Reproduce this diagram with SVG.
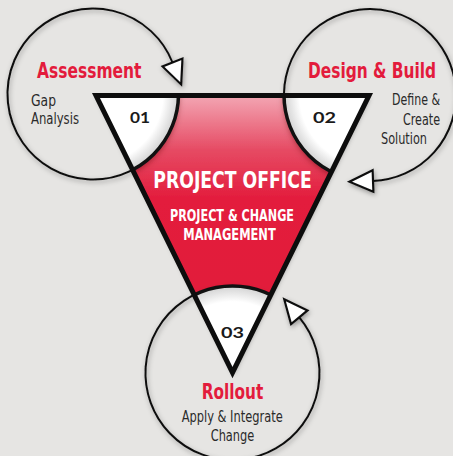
<svg xmlns="http://www.w3.org/2000/svg" width="453" height="456" viewBox="0 0 453 456">
  <defs>
    <style>
      .title { font-family: "Liberation Sans Narrow", "DejaVu Sans Condensed", "Liberation Sans", sans-serif; font-weight: 700; font-size: 21px; fill: #e31b3c; }
      .desc { font-family: "Liberation Sans Narrow", "DejaVu Sans Condensed", "Liberation Sans", sans-serif; font-size: 16px; fill: #2a2a2a; }
      .num { font-family: "Lato", "Open Sans", "Liberation Sans", sans-serif; font-weight: 700; font-size: 15.5px; fill: #1a1a1a; }
      .center { font-family: "Liberation Sans Narrow", "DejaVu Sans Condensed", "Liberation Sans", sans-serif; font-weight: 700; fill: #ffffff; }
      .end { text-anchor: end; }
      .ring { fill: none; stroke: #111; stroke-width: 2; }
      .inner-arc { fill: none; stroke: #111; stroke-width: 3.5; }
      .sector { fill: url(#sectorShade); }
    </style>
    <linearGradient id="redFill" gradientUnits="userSpaceOnUse" x1="0" y1="95" x2="0" y2="372">
      <stop offset="0" stop-color="#f3a7b4"/>
      <stop offset="0.2" stop-color="#e64a63"/>
      <stop offset="0.38" stop-color="#e31b3c"/>
      <stop offset="1" stop-color="#e11a38"/>
    </linearGradient>
    <radialGradient id="sectorShade" cx="50%" cy="50%" r="50%">
      <stop offset="0" stop-color="#ffffff"/>
      <stop offset="0.82" stop-color="#ffffff"/>
      <stop offset="1" stop-color="#d2d2d2"/>
    </radialGradient>
    <clipPath id="triClip">
      <polygon points="96,95.5 369,95.5 232.5,372.5"/>
    </clipPath>
    <filter id="softShadow" x="-20%" y="-20%" width="140%" height="140%">
      <feDropShadow dx="1" dy="2" stdDeviation="2.5" flood-color="#000" flood-opacity="0.35"/>
    </filter>
    <filter id="sectorShadow" x="-20%" y="-20%" width="140%" height="140%">
      <feDropShadow dx="0" dy="3" stdDeviation="3" flood-color="#5a0010" flood-opacity="0.55"/>
    </filter>
    <marker id="arrow" markerUnits="userSpaceOnUse" markerWidth="30" markerHeight="30" viewBox="-2 -12 28 24" refX="0" refY="0" orient="auto" overflow="visible">
      <path d="M0,-10 L22,0 L0,10 Z" fill="#fff" stroke="#111" stroke-width="2" stroke-linejoin="miter"/>
    </marker>
  </defs>

  <rect width="453" height="456" fill="#e6e5e3"/>

  <!-- cycle rings with arrowheads -->
  <g id="connectors" filter="url(#softShadow)">
    <path class="ring" d="M177.2,108.85 A85.5,85.5 0 1 1 172.5,62.5" marker-end="url(#arrow)"/>
    <path class="ring" d="M285.3,109.9 A86,86 0 1 1 373,180.95" marker-end="url(#arrow)"/>
    <path class="ring" d="M217.4,287.3 A87,87 0 1 0 299.3,317.3" marker-end="url(#arrow)"/>
  </g>

  <!-- red triangle body -->
  <g id="triangle-base" filter="url(#softShadow)">
    <polygon points="96,95.5 369,95.5 232.5,372.5" fill="url(#redFill)"/>
  </g>

  <g id="assessment">
    <g clip-path="url(#triClip)">
      <circle class="sector" cx="93" cy="94" r="85.5" filter="url(#sectorShadow)"/>
      <circle class="inner-arc" cx="93" cy="94" r="85.5"/>
    </g>
    <text class="num" x="130" y="123.3" textLength="20" lengthAdjust="spacingAndGlyphs">01</text>
    <text class="title" x="37" y="77.5" textLength="104.5" lengthAdjust="spacingAndGlyphs">Assessment</text>
    <text class="desc" x="31" y="105.5" textLength="25" lengthAdjust="spacingAndGlyphs">Gap</text>
    <text class="desc" x="31" y="124" textLength="48" lengthAdjust="spacingAndGlyphs">Analysis</text>
  </g>

  <g id="design-build">
    <g clip-path="url(#triClip)">
      <circle class="sector" cx="370" cy="95" r="86" filter="url(#sectorShadow)"/>
      <circle class="inner-arc" cx="370" cy="95" r="86"/>
    </g>
    <text class="num" x="313" y="123" textLength="23" lengthAdjust="spacingAndGlyphs">02</text>
    <text class="title end" x="436" y="78" font-size="20" textLength="128" lengthAdjust="spacingAndGlyphs">Design &amp; Build</text>
    <text class="desc end" x="440" y="105" font-size="15" textLength="48" lengthAdjust="spacingAndGlyphs">Define &amp;</text>
    <text class="desc end" x="440" y="125" font-size="15" textLength="37" lengthAdjust="spacingAndGlyphs">Create</text>
    <text class="desc end" x="427" y="144.3" font-size="15" textLength="46" lengthAdjust="spacingAndGlyphs">Solution</text>
  </g>

  <g id="rollout">
    <g clip-path="url(#triClip)">
      <circle class="sector" cx="232.5" cy="373" r="87" filter="url(#sectorShadow)"/>
      <circle class="inner-arc" cx="232.5" cy="373" r="87"/>
    </g>
    <text class="num" x="221" y="338" textLength="23" lengthAdjust="spacingAndGlyphs">03</text>
    <text class="title" x="201.7" y="399.3" textLength="61.6" lengthAdjust="spacingAndGlyphs">Rollout</text>
    <text class="desc" x="181.7" y="421.7" textLength="101" lengthAdjust="spacingAndGlyphs">Apply &amp; Integrate</text>
    <text class="desc" x="210.7" y="440.7" textLength="43.6" lengthAdjust="spacingAndGlyphs">Change</text>
  </g>

  <g id="project-office">
    <polygon points="96,95.5 369,95.5 232.5,372.5" fill="none" stroke="#0d0d0d" stroke-width="5" stroke-linejoin="miter"/>
    <text class="center" x="153.3" y="188.3" font-size="23" textLength="158.4" lengthAdjust="spacingAndGlyphs">PROJECT OFFICE</text>
    <text class="center" x="170" y="220.7" font-size="15.5" textLength="124" lengthAdjust="spacingAndGlyphs">PROJECT &amp; CHANGE</text>
    <text class="center" x="183.3" y="240" font-size="15.5" textLength="92.4" lengthAdjust="spacingAndGlyphs">MANAGEMENT</text>
  </g>
</svg>
